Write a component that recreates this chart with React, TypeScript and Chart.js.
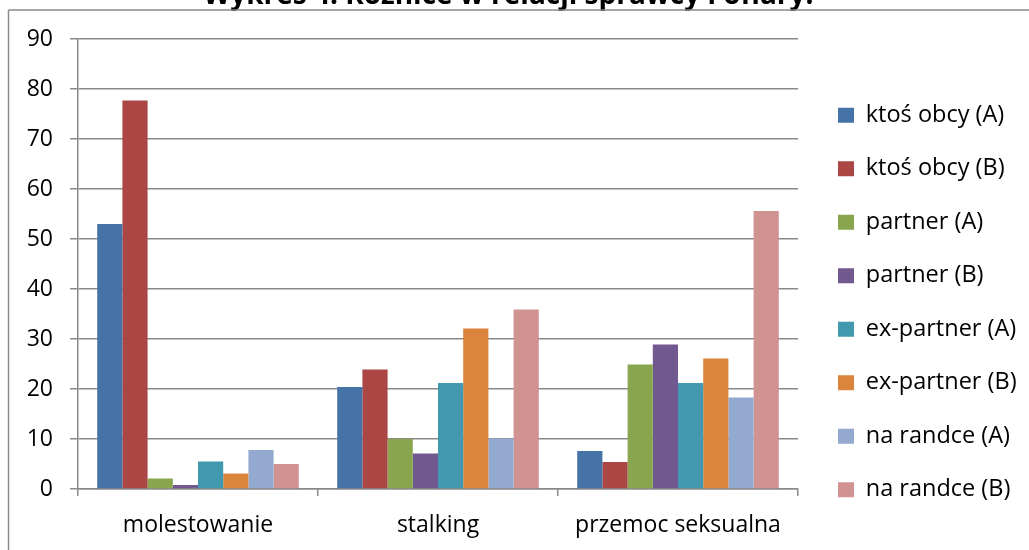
import React, { useEffect, useRef } from 'react';
import { Chart, registerables } from 'chart.js';

Chart.register(...registerables);

const chartTitle = 'Wykres 4. Różnice w relacji sprawcy i ofiary.';
const categories = ['molestowanie', 'stalking', 'przemoc seksualna'];
const seriesLabels = [
  'ktoś obcy (A)',
  'ktoś obcy (B)',
  'partner (A)',
  'partner (B)',
  'ex-partner (A)',
  'ex-partner (B)',
  'na randce (A)',
  'na randce (B)',
];
const ktosObcyA = [53.0, 20.4, 7.6];
const ktosObcyB = [77.7, 23.9, 5.4];
const partnerA = [2.1, 10.0, 24.9];
const partnerB = [0.8, 7.1, 28.9];
const exPartnerA = [5.5, 21.2, 21.2];
const exPartnerB = [3.1, 32.1, 26.1];
const naRandceA = [7.8, 10.1, 18.3];
const naRandceB = [5.0, 35.9, 55.6];
const seriesValues = [ktosObcyA, ktosObcyB, partnerA, partnerB, exPartnerA, exPartnerB, naRandceA, naRandceB];
const seriesColors = ['#4572A7', '#AA4643', '#89A54E', '#71588F', '#4198AF', '#DB843D', '#93A9CF', '#D19392'];
const yMin = 0;
const yMax = 90;
const yStep = 10;

const CANVAS_W = 1029;
const CANVAS_H = 647;
const CANVAS_TOP = -21;
const PLOT_RIGHT = 798;
const LEGEND_BOX_X = 838;
const GRID = '#898989';
const FONT = 'Open Sans';

const legendShift = {
  id: 'legendShift',
  afterLayout(chart: any) {
    const lg = chart.legend;
    if (!lg) return;
    const pad = lg.options.labels.padding;
    const shift = LEGEND_BOX_X - (lg.left + pad);
    lg.left += shift;
    lg.right += shift;
  },
};

const frame = {
  id: 'frame',
  afterDraw(chart: any) {
    const ctx = chart.ctx;
    ctx.save();
    ctx.strokeStyle = '#8a8a8a';
    ctx.lineWidth = 1.5;
    const y = 10 - CANVAS_TOP;
    ctx.beginPath();
    ctx.moveTo(8.5, y);
    ctx.lineTo(CANVAS_W, y);
    ctx.moveTo(8.5, y);
    ctx.lineTo(8.5, CANVAS_H);
    ctx.stroke();
    ctx.restore();
  },
};

export default function App() {
  const ref = useRef<HTMLCanvasElement>(null);

  useEffect(() => {
    if (!ref.current) return;
    const chart = new Chart(ref.current, {
      type: 'bar',
      data: {
        labels: categories,
        datasets: seriesLabels.map((label, i) => ({
          label,
          data: seriesValues[i],
          backgroundColor: seriesColors[i],
          borderWidth: 0,
          categoryPercentage: 0.84,
          barPercentage: 1,
        })),
      },
      options: {
        responsive: false,
        animation: false,
        events: [],
        layout: { padding: { left: 0, right: 0, top: 0, bottom: 0 } },
        plugins: {
          title: {
            display: true,
            text: chartTitle,
            color: '#000',
            font: { family: FONT, size: 28, weight: 'bold' },
            padding: { top: 0, bottom: 26.4 },
          },
          legend: {
            display: true,
            position: 'right',
            labels: {
              boxWidth: 16,
              boxHeight: 15,
              padding: 30,
              color: '#000',
              font: { family: FONT, size: 23.5 },
            },
          },
          tooltip: { enabled: false },
        },
        scales: {
          x: {
            grid: {
              display: true,
              drawOnChartArea: false,
              drawTicks: true,
              tickLength: 7,
              color: GRID,
              lineWidth: 1.5,
              offset: true,
            },
            border: { display: true, color: GRID, width: 1.5 },
            ticks: { color: '#000', font: { family: FONT, size: 23 }, padding: 16, maxRotation: 0 },
            afterFit: (s: any) => {
              s.height = CANVAS_H - (489 - CANVAS_TOP);
            },
          },
          y: {
            min: yMin,
            max: yMax,
            ticks: { stepSize: yStep, color: '#000', font: { family: FONT, size: 23 }, padding: 17 },
            grid: { color: GRID, lineWidth: 1.5, tickLength: 8, drawTicks: true },
            border: { display: true, color: GRID, width: 1.5 },
            afterFit: (s: any) => {
              s.width = 78;
            },
          },
        },
      },
      plugins: [legendShift, frame],
    });
    const lw = chart.legend ? chart.legend.width : 0;
    (chart.options as any).layout.padding.right = Math.max(0, CANVAS_W - PLOT_RIGHT - lw);
    chart.update();
    return () => chart.destroy();
  }, []);

  return (
    <div style={{ position: 'absolute', left: 0, top: 0, width: CANVAS_W, height: 550, overflow: 'hidden', background: '#fff' }}>
      <canvas
        ref={ref}
        width={CANVAS_W}
        height={CANVAS_H}
        style={{ position: 'absolute', left: 0, top: CANVAS_TOP, width: CANVAS_W, height: CANVAS_H }}
      />
    </div>
  );
}
